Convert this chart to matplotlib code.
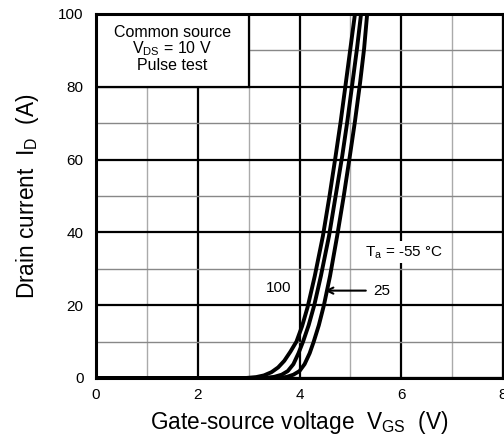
import matplotlib
matplotlib.use('Agg')
import matplotlib.pyplot as plt
from matplotlib.patches import Rectangle

plt.rcParams['font.family'] = ['Liberation Sans', 'DejaVu Sans']
plt.rcParams['mathtext.fontset'] = 'custom'
plt.rcParams['mathtext.rm'] = 'Liberation Sans'
plt.rcParams['mathtext.it'] = 'Liberation Sans'
plt.rcParams['mathtext.default'] = 'regular'

# transfer curves: V_GS (V), I_D (A)
vgs_100 = [0, 2.95, 3.15, 3.3, 3.45, 3.58, 3.7, 3.82, 3.94, 4.05, 4.16, 4.3, 4.46, 4.59, 4.71, 4.81, 4.91, 5.0, 5.09, 5.11]
id_100 = [0, 0, 0.25, 0.7, 1.6, 2.9, 4.7, 7.2, 10, 14.2, 19.5, 28, 39, 50, 61, 70.5, 81, 90.5, 100, 103]

vgs_25 = [0, 3.3, 3.5, 3.65, 3.77, 3.88, 3.98, 4.07, 4.18, 4.29, 4.42, 4.58, 4.71, 4.84, 4.94, 5.04, 5.13, 5.21, 5.23]
id_25 = [0, 0, 0.3, 0.9, 1.9, 3.8, 6.8, 10, 14.5, 20, 28, 39, 50, 61, 70.5, 81, 90.5, 100, 103]

vgs_m55 = [0, 3.6, 3.75, 3.88, 4.0, 4.1, 4.2, 4.28, 4.38, 4.48, 4.6, 4.74, 4.87, 4.99, 5.09, 5.19, 5.27, 5.33, 5.35]
id_m55 = [0, 0, 0.3, 0.9, 1.9, 3.8, 6.8, 10, 14.5, 20, 28, 39, 50, 61, 70.5, 81, 90.5, 100, 103]

x_major = [0, 2, 4, 6, 8]
x_minor = [1, 3, 5, 7]
y_major = [0, 20, 40, 60, 80, 100]
y_minor = [10, 30, 50, 70, 90]

fig = plt.figure(figsize=(5.04, 4.41), dpi=100)
ax = fig.add_axes([0.1905, 0.1429, 0.8075, 0.8254])

ax.set_xlim(0, 8)
ax.set_ylim(0, 100)
ax.set_xticks(x_major)
ax.set_xticks(x_minor, minor=True)
ax.set_yticks(y_major)
ax.set_yticks(y_minor, minor=True)
ax.tick_params(which='both', length=0, labelsize=11)
ax.tick_params(axis='x', pad=7)
ax.tick_params(axis='y', pad=9)

ax.set_axisbelow(True)
ax.grid(which='major', color='black', lw=1.6)
ax.xaxis.grid(True, which='minor', color='#aaaaaa', lw=1.0)
ax.yaxis.grid(True, which='minor', color='#888888', lw=1.0)
for sp in ax.spines.values():
    sp.set_linewidth(2.2)
    sp.set_zorder(5)

for vx, iy in [(vgs_100, id_100), (vgs_25, id_25), (vgs_m55, id_m55)]:
    ax.plot(vx, iy, color='black', lw=2.8, zorder=3, solid_joinstyle='round')

# condition box
ax.add_patch(Rectangle((0, 80), 3, 20, facecolor='white', edgecolor='black', lw=1.6, zorder=2))
ax.text(1.5, 95.0, 'Common source', ha='center', va='center', fontsize=11.5, zorder=4)
ax.text(1.5, 90.5, r'$V_{DS}$ = 10 V', ha='center', va='center', fontsize=11.5, zorder=4)
ax.text(1.5, 85.8, 'Pulse test', ha='center', va='center', fontsize=11.5, zorder=4)

ax.text(5.28, 34.5, r'$T_a$ = -55 °C', ha='left', va='center', fontsize=11, zorder=4,
        bbox=dict(facecolor='white', edgecolor='none', pad=2))
ax.text(3.58, 24.7, '100', ha='center', va='center', fontsize=11, zorder=4)
ax.annotate('25', xy=(4.5, 24.0), xytext=(5.44, 24.0), ha='left', va='center', fontsize=11,
            arrowprops=dict(arrowstyle='->', color='black', lw=1.5, shrinkA=3, shrinkB=0))

ax.set_xlabel(r'Gate-source voltage  $V_{GS}$  (V)', fontsize=16.3, labelpad=5)
ax.set_ylabel(r'Drain current  $I_D$  (A)', fontsize=16.3, labelpad=12)

fig.savefig('out.png', dpi=100)
